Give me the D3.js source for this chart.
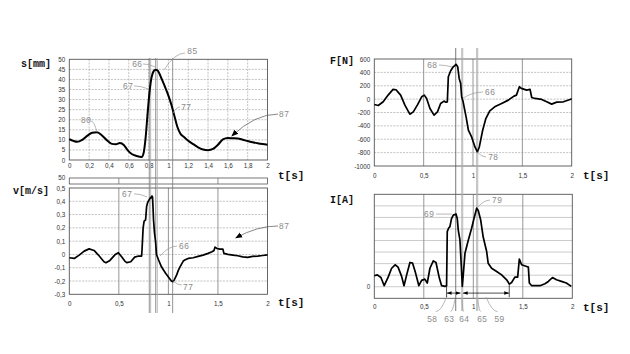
<!DOCTYPE html>
<html>
<head>
<meta charset="utf-8">
<script src="https://cdn.jsdelivr.net/npm/d3@7"></script>
<style>
  body { margin: 0; background: #fff; }
  svg { display: block; }
</style>
</head>
<body>
<script>
// ---- data: [t in s, value] ----
const sSeries = [
  [0, 10.4], [0.04, 9.5], [0.08, 9.0], [0.13, 10.0], [0.18, 12.0], [0.23, 13.5], [0.28, 13.8],
  [0.33, 12.2], [0.38, 9.8], [0.43, 8.0], [0.47, 7.8], [0.51, 8.4], [0.55, 7.5], [0.59, 4.8],
  [0.63, 3.0], [0.68, 2.0], [0.73, 1.5], [0.75, 3.5], [0.77, 11], [0.79, 23], [0.81, 34],
  [0.83, 41], [0.85, 44], [0.87, 44.8], [0.89, 44.5], [0.91, 42.8], [0.93, 40.5], [0.96, 37],
  [1.0, 32], [1.03, 27.5], [1.06, 22], [1.09, 16.5], [1.12, 13.2], [1.16, 11.3], [1.2, 9.6],
  [1.25, 7.9], [1.3, 6.3], [1.35, 5.2], [1.4, 4.9], [1.45, 5.5], [1.5, 7.6], [1.55, 10.2],
  [1.6, 10.9], [1.65, 10.8], [1.7, 10.7], [1.75, 10.1], [1.8, 9.4], [1.85, 8.8], [1.9, 8.3],
  [1.95, 7.9], [2.0, 7.6]
];
const vSeries = [
  [0, -0.025], [0.05, -0.03], [0.1, -0.005], [0.15, 0.025], [0.2, 0.042], [0.25, 0.03], [0.3, -0.01],
  [0.35, -0.055], [0.37, -0.062], [0.41, -0.045], [0.46, -0.003], [0.495, 0.013], [0.53, -0.02],
  [0.56, -0.05], [0.58, -0.062], [0.62, -0.055], [0.66, -0.02], [0.7, -0.012], [0.73, -0.012],
  [0.735, 0.05], [0.745, 0.2], [0.755, 0.25], [0.77, 0.26], [0.78, 0.36], [0.79, 0.39], [0.805, 0.41],
  [0.82, 0.43], [0.83, 0.425], [0.835, 0.44], [0.84, 0.43], [0.845, 0.35], [0.85, 0.26], [0.86, 0.16],
  [0.87, 0.1], [0.88, 0.0], [0.9, -0.04], [0.93, -0.093], [0.97, -0.14], [1.0, -0.17], [1.03, -0.2],
  [1.045, -0.205], [1.06, -0.19], [1.08, -0.16], [1.1, -0.12], [1.12, -0.09], [1.15, -0.05],
  [1.17, -0.04], [1.2, -0.03], [1.25, -0.025], [1.3, -0.015], [1.35, -0.005], [1.4, 0.008],
  [1.44, 0.02], [1.46, 0.03], [1.47, 0.055], [1.49, 0.045], [1.52, 0.04], [1.55, 0.04], [1.56, 0.008],
  [1.6, 0.0], [1.65, -0.005], [1.7, -0.01], [1.75, -0.018], [1.8, -0.022], [1.85, -0.015],
  [1.9, -0.012], [1.95, -0.008], [2.0, -0.003]
];
const fSeries = [
  [0, -80], [0.04, -95], [0.09, -40], [0.14, 60], [0.19, 145], [0.22, 140], [0.267, 60], [0.31, -90],
  [0.36, -225], [0.395, -190], [0.436, -90], [0.48, 35], [0.507, 60], [0.53, 10], [0.564, -140],
  [0.605, -240], [0.64, -190], [0.672, -65], [0.706, -30], [0.726, -45], [0.74, -40], [0.75, 335],
  [0.774, 425], [0.8, 485], [0.815, 500], [0.828, 520], [0.845, 485], [0.86, 310], [0.875, 235],
  [0.885, 35], [0.9, -40], [0.93, -265], [0.953, -465], [0.986, -565], [1.02, -715], [1.044, -790],
  [1.064, -715], [1.098, -465], [1.13, -290], [1.17, -175], [1.22, -115], [1.29, -65], [1.358, -15],
  [1.415, 45], [1.44, 60], [1.47, 185], [1.49, 160], [1.544, 135], [1.578, 145], [1.595, 25],
  [1.628, 10], [1.696, -5], [1.747, -40], [1.797, -75], [1.848, -45], [1.916, -40], [1.983, -5], [2.0, 5]
];
const iSeries = [
  [0, 0.95], [0.03, 1.03], [0.067, 0.8], [0.1, 0.09], [0.14, 0.83], [0.175, 1.6], [0.21, 1.9],
  [0.24, 1.7], [0.276, 0.9], [0.3, 0.09], [0.327, 1.03], [0.36, 2.1], [0.387, 2.04], [0.417, 1.18],
  [0.45, 0.09], [0.478, 0.55], [0.51, 0.66], [0.535, 0.32], [0.562, 1.6], [0.596, 2.24], [0.623, 2.1],
  [0.657, 0.75], [0.68, 0.09], [0.714, 0.03], [0.73, 0.09], [0.737, 4.77], [0.75, 5.06], [0.764, 5.2],
  [0.78, 5.9], [0.798, 6.2], [0.825, 6.3], [0.838, 5.9], [0.848, 4.9], [0.865, 4.05], [0.879, 1.75],
  [0.889, 0.03], [0.9, 1.18], [0.916, 2.9], [0.95, 4.05], [0.983, 5.06], [1.007, 5.9], [1.034, 6.8],
  [1.05, 6.6], [1.074, 5.8], [1.1, 4.3], [1.135, 3.05], [1.15, 2.04], [1.185, 1.6], [1.236, 1.32],
  [1.286, 1.03], [1.337, 0.6], [1.364, 0.23], [1.387, 0.37], [1.42, 0.83], [1.448, 0.83], [1.465, 2.4],
  [1.488, 1.9], [1.539, 1.75], [1.556, 1.7], [1.566, 0.32], [1.59, 0.09], [1.673, 0.09], [1.724, 0.26],
  [1.758, 0.46], [1.8, 0.8], [1.84, 0.6], [1.89, 0.46], [1.94, 0.32], [1.99, 0.03]
];

// tick values
const xTicksFine = [0, 0.2, 0.4, 0.6, 0.8, 1, 1.2, 1.4, 1.6, 1.8, 2];
const xTicksHalf = [0, 0.5, 1, 1.5, 2];
const yTicksS = [0, 5, 10, 15, 20, 25, 30, 35, 40, 45, 50];
const yTicksV = [-0.3, -0.2, -0.1, 0, 0.1, 0.2, 0.3, 0.4, 0.5];
const yTicksF = [-1000, -800, -600, -400, -200, 0, 200, 400, 600];
const yTicksI = [0];
const iGridLevels = [0, 1, 2, 3, 4, 5, 6, 7];

// marker lines (t) and reference numerals
const leftMarkers = [0.807, 0.821, 0.872, 0.888, 1.043];
const rightMarkers = [0.825, 0.886, 0.896, 1.037, 1.048];

const W = 630, H = 354;
const MONO = '"Liberation Mono", "DejaVu Sans Mono", monospace';
const TICKFONT = '"Liberation Sans", "DejaVu Sans", sans-serif';
const fmt = d => String(+d.toFixed(2)).replace('.', ',');

const svg = d3.select('body').append('svg')
  .attr('width', W).attr('height', H);

const defs = svg.append('defs');
defs.append('marker').attr('id', 'arr')
  .attr('viewBox', '0 0 10 10').attr('refX', 9).attr('refY', 5)
  .attr('markerWidth', 7).attr('markerHeight', 7).attr('orient', 'auto-start-reverse')
  .attr('markerUnits', 'userSpaceOnUse')
  .append('path').attr('d', 'M0,1 L10,5 L0,9 z').attr('fill', '#000');
defs.append('marker').attr('id', 'dim')
  .attr('viewBox', '0 0 10 10').attr('refX', 9).attr('refY', 5)
  .attr('markerWidth', 5).attr('markerHeight', 5).attr('orient', 'auto-start-reverse')
  .attr('markerUnits', 'userSpaceOnUse')
  .append('path').attr('d', 'M0,1.5 L10,5 L0,8.5 z').attr('fill', '#000');

const panels = {
  s: { left: 69.3, right: 267.5, top: 59.3, bottom: 160, yDomain: [0, 50],
       xTicks: xTicksFine, yTicks: yTicksS, data: sSeries, curve: d3.curveMonotoneX,
       vGrid: xTicksFine.slice(1, -1), vGridSolid: false,
       hGrid: yTicksS.slice(1, -1), hGridSolid: false,
       title: 's[mm]', titlePos: [21, 66.5], tPos: [278, 178.5], xLabY: 168 },
  v: { left: 69.3, right: 267.5, top: 188, bottom: 294.3, yDomain: [-0.3, 0.5],
       xTicks: xTicksHalf, yTicks: yTicksV, data: vSeries, curve: d3.curveLinear,
       vGrid: [0.5, 1, 1.5], vGridSolid: true,
       hGrid: yTicksV.slice(1, -1), hGridSolid: false,
       title: 'v[m/s]', titlePos: [13, 193.5], tPos: [278, 306], xLabY: 306 },
  F: { left: 374.3, right: 571.7, top: 59, bottom: 166, yDomain: [-1000, 600],
       xTicks: xTicksHalf, yTicks: yTicksF, data: fSeries, curve: d3.curveLinear,
       vGrid: [0.5, 1, 1.5], vGridSolid: true,
       hGrid: yTicksF.slice(1, -1), hGridSolid: false,
       title: 'F[N]', titlePos: [330, 63.5], tPos: [583, 178.5], xLabY: 177.5 },
  I: { left: 374.3, right: 572.3, top: 194.3, bottom: 298.3, yDomain: [-1, 8],
       xTicks: xTicksHalf, yTicks: yTicksI, data: iSeries, curve: d3.curveLinear,
       vGrid: [0.5, 1, 1.5], vGridSolid: true,
       hGrid: iGridLevels, hGridSolid: true,
       title: 'I[A]', titlePos: [330, 202.5], tPos: [583, 310.5], xLabY: 309 }
};

Object.values(panels).forEach(p => {
  p.x = d3.scaleLinear().domain([0, 2]).range([p.left, p.right]);
  p.y = d3.scaleLinear().domain(p.yDomain).range([p.bottom, p.top]);
  const g = svg.append('g');

  // grid
  g.selectAll('.hg').data(p.hGrid).enter().append('line')
    .attr('x1', p.left).attr('x2', p.right)
    .attr('y1', d => p.y(d)).attr('y2', d => p.y(d))
    .attr('stroke', p.hGridSolid ? '#b4b4b4' : '#a8a8a8')
    .attr('stroke-width', 0.7)
    .attr('stroke-dasharray', p.hGridSolid ? null : '2,1.2');
  g.selectAll('.vg').data(p.vGrid).enter().append('line')
    .attr('y1', p.top).attr('y2', p.bottom)
    .attr('x1', d => p.x(d)).attr('x2', d => p.x(d))
    .attr('stroke', p.vGridSolid ? '#8a8a8a' : '#a8a8a8')
    .attr('stroke-width', p.vGridSolid ? 0.9 : 0.7)
    .attr('stroke-dasharray', p.vGridSolid ? null : '2,1.2');

  // frame
  g.append('rect')
    .attr('x', p.left).attr('y', p.top)
    .attr('width', p.right - p.left).attr('height', p.bottom - p.top)
    .attr('fill', 'none').attr('stroke', '#555').attr('stroke-width', 0.9);

  // tick labels
  const ax = g.append('g').attr('transform', `translate(0,${p.xLabY})`)
    .call(d3.axisBottom(p.x).tickValues(p.xTicks).tickFormat(fmt).tickSize(0).tickPadding(0));
  const ay = g.append('g').attr('transform', `translate(${p.left},0)`)
    .call(d3.axisLeft(p.y).tickValues(p.yTicks).tickFormat(fmt).tickSize(0).tickPadding(4));
  [ax, ay].forEach(a => {
    a.select('.domain').remove();
    a.selectAll('text').attr('font-family', TICKFONT).attr('font-size', 6.3).attr('fill', '#333');
  });
  ax.selectAll('text').attr('dy', 0).attr('y', 0);

  // titles
  g.append('text').attr('x', p.titlePos[0]).attr('y', p.titlePos[1])
    .attr('font-family', MONO).attr('font-weight', 'bold').attr('font-size', 10)
    .attr('fill', '#111').text(p.title);
  g.append('text').attr('x', p.tPos[0]).attr('y', p.tPos[1])
    .attr('font-family', MONO).attr('font-weight', 'bold').attr('font-size', 11)
    .attr('fill', '#111').text('t[s]');
});

// leftover strip above the v panel
const pv = panels.v;
const strip = svg.append('g');
strip.append('rect').attr('x', pv.left).attr('y', 178).attr('width', pv.right - pv.left).attr('height', 6)
  .attr('fill', 'none').attr('stroke', '#555').attr('stroke-width', 0.8);
strip.selectAll('line').data([0.5, 1.5]).enter().append('line')
  .attr('x1', d => pv.x(d)).attr('x2', d => pv.x(d)).attr('y1', 178).attr('y2', 184)
  .attr('stroke', '#777').attr('stroke-width', 0.8);
strip.append('text').attr('x', pv.left - 4).attr('y', 179.5).attr('text-anchor', 'end')
  .attr('font-family', TICKFONT).attr('font-size', 6.3).attr('fill', '#333').text('50');

// marker lines
const ps = panels.s, pf = panels.F, pi = panels.I;
svg.append('g').selectAll('line').data(leftMarkers).enter().append('line')
  .attr('x1', d => ps.x(d)).attr('x2', d => ps.x(d)).attr('y1', 58).attr('y2', 313)
  .attr('stroke', (d, i) => i % 2 === 0 ? '#777' : '#aaa').attr('stroke-width', 0.8);
svg.append('g').selectAll('line').data(rightMarkers).enter().append('line')
  .attr('x1', d => pf.x(d)).attr('x2', d => pf.x(d)).attr('y1', 48).attr('y2', 311)
  .attr('stroke', (d, i) => i === 0 ? '#555' : '#aaa').attr('stroke-width', 0.8);

// curves
Object.values(panels).forEach(p => {
  const line = d3.line().x(d => p.x(d[0])).y(d => p.y(d[1])).curve(p.curve);
  svg.append('path').datum(p.data).attr('d', line)
    .attr('fill', 'none').attr('stroke', '#000')
    .attr('stroke-width', p === panels.s ? 2 : 1.7)
    .attr('stroke-linejoin', 'round');
});

// reference numerals: label position and leader in data units of the panel
const notes = [
  { p: 's', text: '85', at: [1.24, 54.1], from: [1.167, 53.1], to: [0.955, 44.7] },
  { p: 's', text: '66', at: [0.683, 47.7], from: [0.743, 47.7], to: [0.865, 46.2] },
  { p: 's', text: '67', at: [0.592, 36.8], from: [0.653, 36.8], to: [0.794, 35.3] },
  { p: 's', text: '77', at: [1.178, 26.3], from: [1.117, 26.3], to: [1.046, 23.3] },
  { p: 's', text: '80', at: [0.168, 19.9], from: [0.219, 19.4], to: [0.279, 13.9] },
  { p: 's', text: '87', at: [2.166, 22.8], from: [2.106, 22.8], to: [1.64, 11.9], arrow: true },
  { p: 'v', text: '67', at: [0.582, 0.456], from: [0.653, 0.456], to: [0.784, 0.433] },
  { p: 'v', text: '66', at: [1.157, 0.063], from: [1.087, 0.063], to: [0.915, -0.012] },
  { p: 'v', text: '77', at: [1.197, -0.245], from: [1.137, -0.23], to: [1.046, -0.2] },
  { p: 'v', text: '87', at: [2.166, 0.214], from: [2.106, 0.214], to: [1.68, 0.124], arrow: true },
  { p: 'F', text: '68', at: [0.585, 510], from: [0.656, 510], to: [0.788, 480] },
  { p: 'F', text: '66', at: [1.172, 106], from: [1.101, 106], to: [0.899, 16] },
  { p: 'F', text: '78', at: [1.203, -865], from: [1.132, -865], to: [1.041, -790] },
  { p: 'I', text: '69', at: [0.552, 6.29], from: [0.622, 6.29], to: [0.784, 6.29] },
  { p: 'I', text: '79', at: [1.239, 7.5], from: [1.168, 7.5], to: [1.047, 6.9] },
  { p: 'I', text: '58', at: [0.583, -2.8], from: [0.62, -2.15], to: [0.733, -0.8] },
  { p: 'I', text: '63', at: [0.755, -2.8], from: [0.77, -2.15], to: [0.815, -1.1] },
  { p: 'I', text: '64', at: [0.906, -2.8], from: [0.9, -2.15], to: [0.886, -1.1] },
  { p: 'I', text: '65', at: [1.088, -2.8], from: [1.075, -2.15], to: [1.045, -1.1] },
  { p: 'I', text: '59', at: [1.263, -2.8], from: [1.245, -2.15], to: [1.13, -0.9] }
];

const ng = svg.append('g');
notes.forEach(n => {
  const p = panels[n.p];
  const x0 = p.x(n.from[0]), y0 = p.y(n.from[1]);
  const x1 = p.x(n.to[0]), y1 = p.y(n.to[1]);
  const cx = (x0 + x1) / 2, cy = y0;
  ng.append('path')
    .attr('d', `M${x0},${y0} Q${cx},${cy} ${x1},${y1}`)
    .attr('fill', 'none').attr('stroke', n.arrow ? '#555' : '#999').attr('stroke-width', 0.7)
    .attr('marker-end', n.arrow ? 'url(#arr)' : null);
  ng.append('text').attr('x', p.x(n.at[0])).attr('y', p.y(n.at[1]))
    .attr('dy', '0.35em').attr('text-anchor', 'middle')
    .attr('font-family', MONO).attr('font-size', 8.5).attr('fill', '#8c8c8c')
    .text(n.text);
});

// dimension arrows 58 and 59 in the I panel
const dims = [[0.73, 0.874], [0.893, 1.363]];
const dimLevel = -0.55;
ng.selectAll('.dim').data(dims).enter().append('line')
  .attr('x1', d => pi.x(d[0]) + 0.5).attr('x2', d => pi.x(d[1]) - 0.5)
  .attr('y1', pi.y(dimLevel)).attr('y2', pi.y(dimLevel))
  .attr('stroke', '#000').attr('stroke-width', 0.7)
  .attr('marker-start', 'url(#dim)').attr('marker-end', 'url(#dim)');
ng.selectAll('.dimtick').data([0.73, 1.363]).enter().append('line')
  .attr('x1', d => pi.x(d)).attr('x2', d => pi.x(d))
  .attr('y1', pi.y(0.2)).attr('y2', pi.y(-0.9))
  .attr('stroke', '#000').attr('stroke-width', 0.7);
</script>
</body>
</html>
